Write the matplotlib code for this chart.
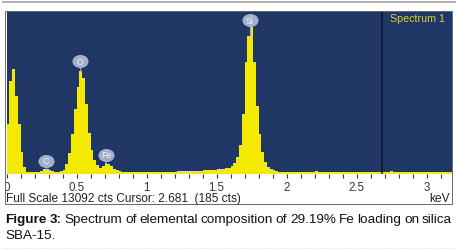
import numpy as np
import matplotlib
matplotlib.use("Agg")
import matplotlib.pyplot as plt
from matplotlib.patches import Rectangle
from matplotlib.lines import Line2D
from matplotlib.path import Path
from matplotlib.ticker import MultipleLocator

plt.rcParams['font.family'] = ['Liberation Sans', 'DejaVu Sans']

# ---------------- data ----------------
channel_kev = 0.02
counts = [
    4000, 7500, 8400, 6300, 4000, 1800, 550, 200, 150, 150,      # 0.00-0.18
    150, 170, 250, 380, 420, 330, 220, 170, 180, 250,            # 0.20-0.38
    350, 800, 1700, 3200, 5200, 7000, 8250, 7700, 5600, 3300,    # 0.40-0.58
    1900, 1150, 700, 520, 620, 850, 820, 620, 420, 300,          # 0.60-0.78
    220, 180, 160, 150, 150, 140, 150, 140, 150, 150,            # 0.80-0.98
    160, 150, 160, 160, 170, 170, 170, 180, 180, 190,            # 1.00-1.18
    200, 210, 230, 240, 240, 250, 250, 260, 270, 280,            # 1.20-1.38
    290, 300, 320, 340, 360, 380, 400, 420, 460, 520,            # 1.40-1.58
    650, 900, 1400, 2300, 4800, 9000, 11100, 11800, 9000, 5500,  # 1.60-1.78
    3200, 1800, 1000, 600, 400, 300, 230, 190, 170, 160,         # 1.80-1.98
    150, 150, 150, 150, 150, 145, 145, 145, 150, 160,            # 2.00-2.18
    230, 190, 150, 145, 140, 140, 140, 140, 140, 140,            # 2.20-2.38
    140, 140, 140, 140, 140, 140, 140, 140, 140, 140,            # 2.40-2.58
    140, 140, 140, 140, 140, 150, 170, 220, 170, 140,            # 2.60-2.78
    140, 140, 140, 140, 140, 140, 140, 140, 140, 140,            # 2.80-2.98
    140, 140, 140, 140, 140, 140, 140, 140, 140,                 # 3.00-3.16
]
full_scale = 13092
x_max_kev = 3.18
cursor_kev = 2.681
cursor_cts = 185
spectrum_name = "Spectrum 1"
peak_labels = ['C', 'O', 'Fe', 'Si']
peak_kev = [0.28, 0.525, 0.71, 1.735]
label_cts = [1050, 9050, 1530, 12350]
x_ticks = [0, 0.5, 1, 1.5, 2, 2.5, 3]
tick_labels = ['0', '0.5', '1', '1.5', '2', '2.5', '3']
status_text = f"Full Scale {full_scale} cts Cursor: {cursor_kev:.3f}  ({cursor_cts} cts)"
unit_text = "keV"
caption_bold = ["Figure", "3:"]
caption_line1 = "Spectrum of elemental composition of 29.19% Fe loading on silica"
caption_line2 = "SBA-15."

# ---------------- figure ----------------
W, H = 458, 251
fig = plt.figure(figsize=(W / 100, H / 100), dpi=100)
fig.patch.set_facecolor('white')


def fx(px):
    return px / W


def fy(py):
    return 1 - py / H


ax = fig.add_axes([fx(6.5), fy(175), (452 - 6.5) / W, (175 - 12) / H])
ax.set_facecolor('#203765')
edges = np.arange(len(counts) + 1) * channel_kev
ax.fill_between(edges, np.r_[counts, counts[-1]], 0, step='post',
                facecolor='#F4EA00', edgecolor='none', lw=0, zorder=2,
                antialiased=False)
ax.set_xlim(0, x_max_kev)
ax.set_ylim(0, full_scale)
for s in ax.spines.values():
    s.set_visible(False)

ax.set_xticks(x_ticks)
ax.set_xticklabels(tick_labels)
ax.xaxis.set_minor_locator(MultipleLocator(0.1))
ax.set_yticks([])
ax.tick_params(axis='x', which='both', direction='out', length=2.6, width=0.8,
               color='#333333', labelsize=8.3, labelcolor='#333333', pad=2.2)

# cursor
ax.axvline(cursor_kev, color='#0a1630', lw=1.1, zorder=3)

# peak labels (ellipse markers)
circ = Path.unit_circle()
ell = Path(circ.vertices * np.array([1.25, 1.0]), circ.codes)
for lab, e, lc in zip(peak_labels, peak_kev, label_cts):
    pk = counts[int(e / channel_kev)]
    ax.plot([e, e], [pk, lc - 400], color='#9aa8c4', lw=0.8, zorder=4)
    ax.scatter([e], [lc], marker=ell, s=120, color='#a3afc6',
               edgecolors='#b8c3d8', linewidths=0.5, zorder=5)
    ax.text(e, lc, lab, ha='center', va='center', fontsize=6.3,
            color='#f2f5fb', zorder=6)

ax.text(fx(390), fy(19), spectrum_name, transform=fig.transFigure,
        ha='left', va='center', fontsize=7.7, color='#D6D62C', zorder=7)

# cover outside panel at left (clip tick label "0")
fig.patches.append(Rectangle((0, fy(210)), fx(5), (210 - 170) / H,
                             transform=fig.transFigure, facecolor='white',
                             edgecolor='none', zorder=2))
# panel frame
fig.patches.append(Rectangle((fx(5), fy(205)), fx(452 - 5), (205 - 12) / H,
                             transform=fig.transFigure, fill=False,
                             edgecolor='#5d6b86', lw=0.7, zorder=3))

fig.text(fx(6.5), fy(199), status_text, ha='left', va='center', fontsize=8.6,
         color='#222222')
fig.text(fx(450), fy(199), unit_text, ha='right', va='center', fontsize=8.6,
         color='#222222')

# page lines
fig.lines.append(Line2D([fx(3), fx(455)], [fy(2.5), fy(2.5)],
                        transform=fig.transFigure, color='#b0b0b0', lw=1.4))
fig.lines.append(Line2D([fx(3), fx(455)], [fy(249), fy(249)],
                        transform=fig.transFigure, color='#e2e2e2', lw=0.6,
                        ls=(0, (2, 2))))

# caption (justified first line)
renderer = fig.canvas.get_renderer()
words = [(w, 'bold') for w in caption_bold] + \
        [(w, 'normal') for w in caption_line1.split()]
objs = []
for w, wt in words:
    t = fig.text(0, fy(220), w, ha='left', va='center', fontsize=9.7,
                 fontweight=wt, color='#111111')
    objs.append(t)
widths = [t.get_window_extent(renderer).width for t in objs]
left, right = 5.5, 452
gap = (right - left - sum(widths)) / (len(objs) - 1)
xpos = left
for t, wd in zip(objs, widths):
    t.set_x(fx(xpos))
    xpos += wd + gap
fig.text(fx(5.5), fy(236), caption_line2, ha='left', va='center', fontsize=9.7,
         color='#111111')

fig.savefig('out.png', dpi=100, facecolor='white')
